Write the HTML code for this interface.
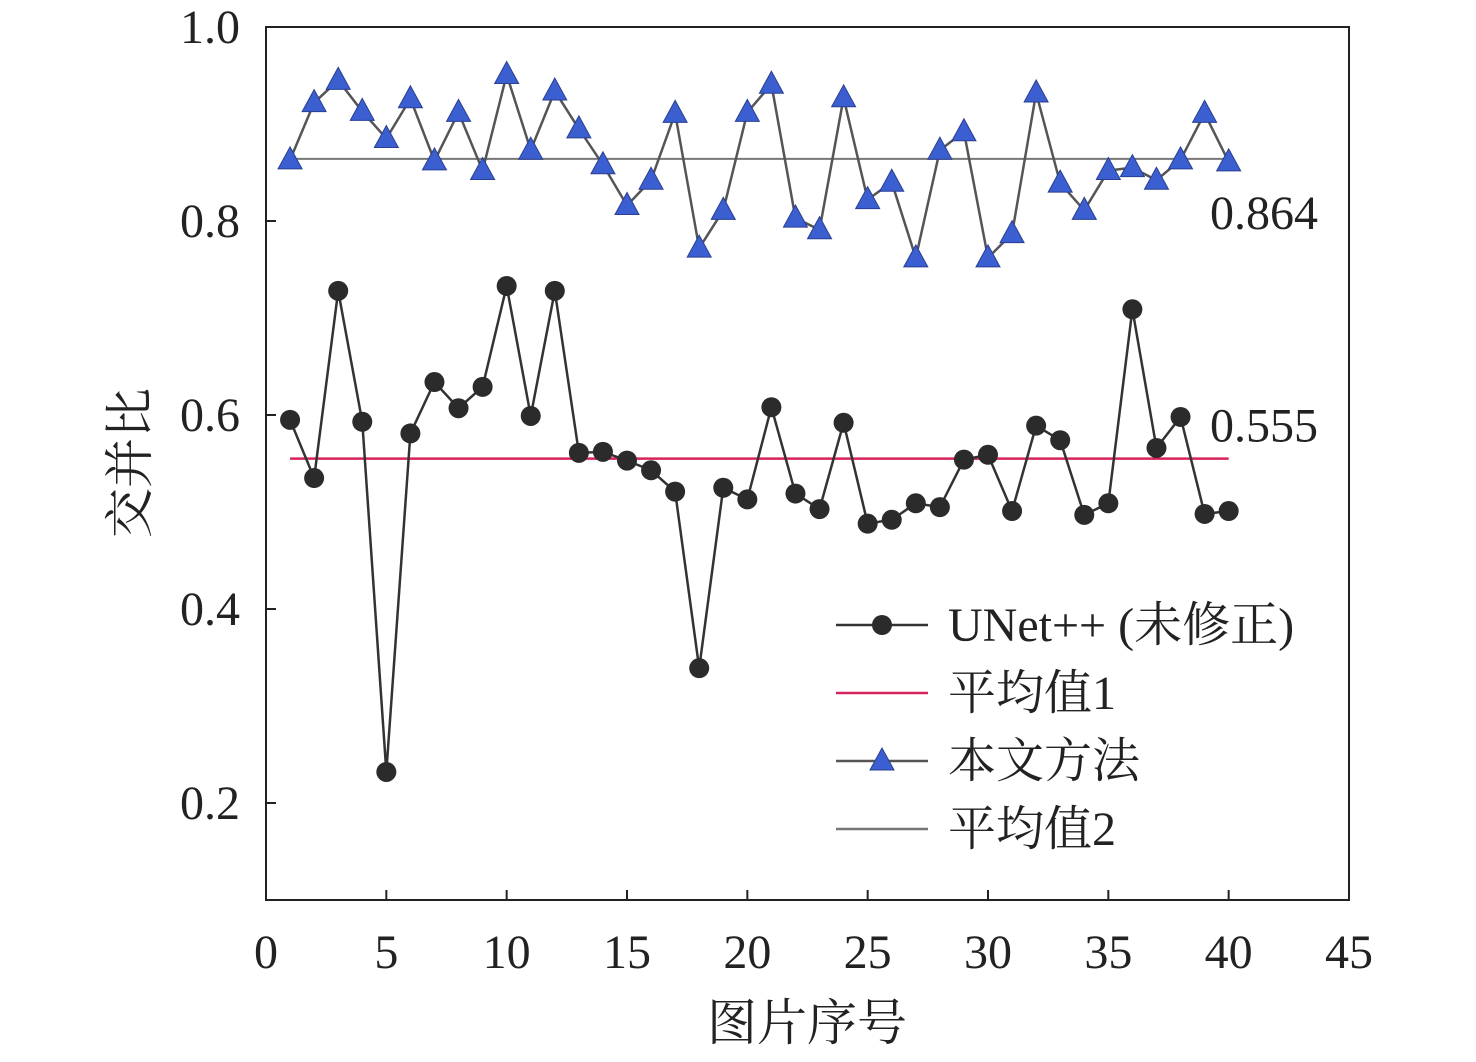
<!DOCTYPE html>
<html><head><meta charset="utf-8"><style>
body{margin:0;background:#fff}
svg text{font-family:"Liberation Serif","Noto Serif CJK SC",serif;fill:#222}
</style></head><body>
<svg id="c" width="1476" height="1057"></svg>
<script>
const xTicks=[0,5,10,15,20,25,30,35,40,45];
const yTicks=[0.2,0.4,0.6,0.8,1.0];
const unet=[0.595,0.535,0.728,0.593,0.232,0.581,0.634,0.607,0.629,0.733,0.599,0.728,0.561,0.562,0.553,0.543,0.521,0.339,0.525,0.513,0.608,0.519,0.503,0.592,0.488,0.492,0.509,0.505,0.554,0.559,0.501,0.589,0.574,0.497,0.509,0.709,0.566,0.598,0.498,0.501];
const ours=[0.863,0.922,0.945,0.913,0.885,0.926,0.862,0.912,0.852,0.951,0.873,0.934,0.895,0.858,0.816,0.842,0.911,0.772,0.811,0.912,0.941,0.803,0.791,0.927,0.822,0.840,0.762,0.873,0.892,0.762,0.787,0.932,0.839,0.811,0.852,0.855,0.842,0.863,0.911,0.861];
const mean1=0.555, mean2=0.864;
const X=v=>266+v*(1349-266)/45;
const Y=v=>27+(1.0-v)*970;
const svg=document.getElementById('c');
const NS='http://www.w3.org/2000/svg';
function mk(t,a,p){const e=document.createElementNS(NS,t);for(const k in a)e.setAttribute(k,a[k]);(p||svg).appendChild(e);return e;}
let e;
e=mk('rect',{x:266,y:27,width:1083,height:873,fill:'none',stroke:'#222','stroke-width':2});


xTicks.forEach(t=>{
 mk('line',{x1:X(t),x2:X(t),y1:900,y2:890,stroke:'#222','stroke-width':2});
 e=mk('text',{x:X(t),y:968,'font-size':48,'text-anchor':'middle'});e.textContent=t;
 
 
});
yTicks.forEach(t=>{
 mk('line',{x1:266,x2:276,y1:Y(t),y2:Y(t),stroke:'#222','stroke-width':2});
 e=mk('text',{x:240,y:Y(t)+16,'font-size':48,'text-anchor':'end'});e.textContent=t.toFixed(1);
 
 
});
e=mk('text',{x:807,y:1040,'font-size':50,'text-anchor':'middle'});e.textContent='图片序号';


e=mk('text',{x:0,y:0,'font-size':50,'text-anchor':'middle',transform:'translate(147,463) rotate(-90)'});e.textContent='交并比';


e=mk('line',{x1:X(1),x2:X(40),y1:Y(mean2),y2:Y(mean2),stroke:'#777','stroke-width':2});


e=mk('line',{x1:X(1),x2:X(40),y1:Y(mean1),y2:Y(mean1),stroke:'#d6245a','stroke-width':2.5});


e=mk('polyline',{points:ours.map((v,i)=>X(i+1)+','+Y(v)).join(' '),fill:'none',stroke:'#555','stroke-width':2.5});


ours.forEach((v,i)=>{const x=X(i+1),y=Y(v);
 e=mk('polygon',{points:`${x},${y-13} ${x-12},${y+9} ${x+12},${y+9}`,fill:'#3b5fd0',stroke:'#2a3f90','stroke-width':1});
 
 });
e=mk('polyline',{points:unet.map((v,i)=>X(i+1)+','+Y(v)).join(' '),fill:'none',stroke:'#333','stroke-width':2.5});


unet.forEach((v,i)=>{
 e=mk('circle',{cx:X(i+1),cy:Y(v),r:10,fill:'#2b2b2b'});
 
 });
e=mk('text',{x:1210,y:Y(mean2)+70,'font-size':48});e.textContent=mean2.toFixed(3);


e=mk('text',{x:1210,y:Y(mean1)-17,'font-size':48});e.textContent=mean1.toFixed(3);


const leg=[['UNet++ (未修正)','c','#333'],['平均值1','l','#d6245a'],['本文方法','t','#555'],['平均值2','l','#777']];
leg.forEach((L,i)=>{const y=625+i*68;
 const g=mk('g',{});
 
 
 mk('line',{x1:836,x2:928,y1:y,y2:y,stroke:L[2],'stroke-width':2.5},g);
 if(L[1]=='c')mk('circle',{cx:882,cy:y,r:10,fill:'#2b2b2b'},g);
 if(L[1]=='t')mk('polygon',{points:`882,${y-13} 870,${y+9} 894,${y+9}`,fill:'#3b5fd0',stroke:'#2a3f90'},g);
 const t=mk('text',{x:948,y:y+16,'font-size':48},g);t.textContent=L[0];
});
</script>
</body></html>
